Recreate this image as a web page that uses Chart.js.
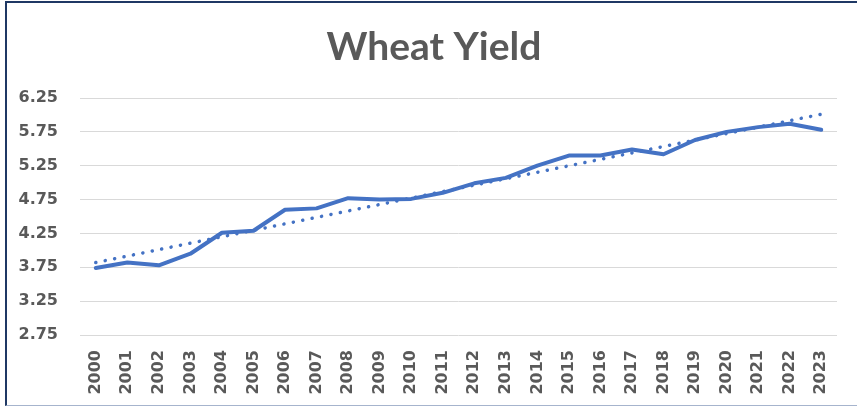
<!DOCTYPE html>
<html>
<head>
<meta charset="utf-8">
<title>Wheat Yield</title>
<script src="https://cdn.jsdelivr.net/npm/chart.js@4.4.1/dist/chart.umd.min.js"></script>
<style>
  html, body { margin: 0; padding: 0; background: #ffffff; }
  .wrap { position: relative; width: 857px; height: 406px; overflow: hidden; }
  .frame {
    position: absolute; left: 5px; top: 1px; width: 860px; height: 402px;
    border-top: 2px solid #1f3864; border-left: 2px solid #1f3864;
    border-bottom: 1px solid #a6b4cd; pointer-events: none;
  }
  canvas { position: absolute; left: 0; top: 0; }
</style>
</head>
<body>
<div class="wrap">
  <canvas id="chart" width="857" height="406"></canvas>
  <div class="frame"></div>
</div>
<script>
const years = ["2000", "2001", "2002", "2003", "2004", "2005", "2006", "2007", "2008", "2009", "2010", "2011",
  "2012", "2013", "2014", "2015", "2016", "2017", "2018", "2019", "2020", "2021", "2022", "2023"];
const wheatYield = [3.74, 3.82, 3.78, 3.95, 4.26, 4.29, 4.60, 4.62, 4.77, 4.75, 4.76, 4.85,
  4.99, 5.07, 5.25, 5.40, 5.40, 5.49, 5.42, 5.63, 5.75, 5.82, 5.87, 5.78];
// linear trend line, ends
const trendStart = 3.82;
const trendEnd = 6.01;
const yTicks = [2.75, 3.25, 3.75, 4.25, 4.75, 5.25, 5.75, 6.25];
const chartTitle = "Wheat Yield";

const trendData = years.map(function () { return null; });
trendData[0] = trendStart;
trendData[trendData.length - 1] = trendEnd;

const textColor = "#595959";
const lineBlue = "#4472c4";
const tickFont = { family: "'DejaVu Sans'", size: 16, weight: "bold" };

// title drawn by hand so it can sit centred on the whole frame
const titlePlugin = {
  id: "frameTitle",
  afterDraw: function (chart) {
    const ctx = chart.ctx;
    ctx.save();
    ctx.fillStyle = textColor;
    ctx.font = "bold 39px Lato";
    ctx.textAlign = "center";
    ctx.textBaseline = "alphabetic";
    ctx.fillText(chartTitle, 434, 60);
    ctx.restore();
  }
};

new Chart(document.getElementById("chart"), {
  type: "line",
  data: {
    labels: years,
    datasets: [
      {
        label: "Wheat Yield",
        data: wheatYield,
        borderColor: lineBlue,
        borderWidth: 4,
        pointRadius: 0,
        tension: 0,
        borderJoinStyle: "round",
        borderCapStyle: "round"
      },
      {
        label: "Linear (Wheat Yield)",
        data: trendData,
        spanGaps: true,
        borderColor: lineBlue,
        borderWidth: 3.5,
        borderDash: [0.1, 9.5],
        borderCapStyle: "round",
        pointRadius: 0
      }
    ]
  },
  plugins: [titlePlugin],
  options: {
    responsive: false,
    animation: false,
    layout: { padding: { left: 0, right: 20, top: 98, bottom: 0 } },
    plugins: {
      legend: { display: false },
      tooltip: { enabled: false },
      title: { display: false }
    },
    scales: {
      x: {
        offset: true,
        grid: { display: false, drawTicks: false },
        border: { display: false },
        ticks: {
          autoSkip: false,
          minRotation: 90,
          maxRotation: 90,
          padding: 15,
          color: textColor,
          font: tickFont
        },
        afterFit: function (scale) { scale.height = 71; }
      },
      y: {
        min: 2.75,
        max: 6.25,
        afterBuildTicks: function (scale) {
          scale.ticks = yTicks.map(function (v) { return { value: v }; });
        },
        grid: { color: "#d9d9d9", lineWidth: 1, drawTicks: false },
        border: { display: false },
        ticks: {
          padding: 22,
          color: textColor,
          font: tickFont,
          callback: function (v) { return v.toFixed(2); }
        },
        afterFit: function (scale) { scale.width = 80; }
      }
    }
  }
});
</script>
</body>
</html>
